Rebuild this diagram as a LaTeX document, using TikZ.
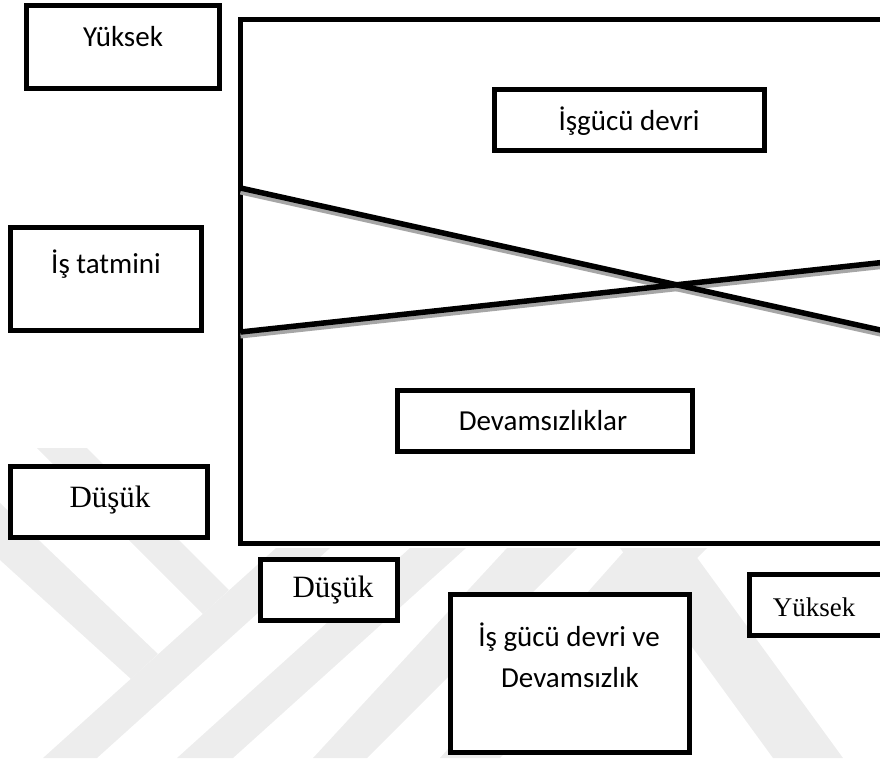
\documentclass[tikz,border=0pt]{standalone}
\usepackage{fontspec}
\setmainfont{Carlito}
\newfontfamily\timesfont{Liberation Serif}
\begin{document}
\begin{tikzpicture}[x=1pt,y=-1pt,
  box/.style={draw=black, fill=white, line width=5pt, inner sep=0pt},
  sanslbl/.style={font=\fontsize{29}{42}\selectfont, inner sep=0pt, align=center},
  seriflbl/.style={font=\timesfont\fontsize{#1}{#1}\selectfont, inner sep=0pt},
  trend/.style={line width=5.5pt, draw=black},
  trendshadow/.style={line width=5pt, draw=black!35},
  wmband/.style={fill=black!7, draw=none}
]
\useasboundingbox (0,0) rectangle (880,758);
\clip (0,0) rectangle (880,758);

% faint background emblem
\fill[wmband] (43,758) -- (97,758) -- (330,548) -- (276,548) -- cycle;
\fill[wmband] (177,758) -- (233,758) -- (466,548) -- (410,548) -- cycle;
\fill[wmband] (313,758) -- (367,758) -- (577,548) -- (507,548) -- cycle;
\fill[wmband] (440,758) -- (500,758) -- (707,548) -- (627,548) -- cycle;
\fill[wmband] (0,503) -- (158,654) -- (131,679) -- (0,560) -- cycle;
\fill[wmband] (37,448) -- (87,448) -- (229,590) -- (203,614) -- cycle;
\fill[wmband] (620,548) -- (690,548) -- (843,758) -- (773,758) -- cycle;

% main frame (open to the right)
\draw[line width=5pt, fill=white] (905,19.5) -- (240.5,19.5) -- (240.5,543.5) -- (905,543.5);

% crossing trend lines
\coordinate (t1a) at (240.5,188);
\coordinate (t1b) at (905,335.5);
\coordinate (t2a) at (240.5,332);
\coordinate (t2b) at (905,260);
\draw[trendshadow] ([yshift=-4pt]t1a) -- ([yshift=-4pt]t1b);
\draw[trendshadow] ([yshift=-4pt]t2a) -- ([yshift=-4pt]t2b);
\draw[trend] (t1a) -- (t1b);
\draw[trend] (t2a) -- (t2b);

% boxes
\node[box, minimum width=193pt, minimum height=83pt] (yhigh) at (123,47) {};
\node[box, minimum width=191pt, minimum height=103pt] (sat) at (106,279) {};
\node[box, minimum width=197pt, minimum height=71pt] (ylow) at (109,502) {};
\node[box, minimum width=137pt, minimum height=61pt] (xlow) at (329,590) {};
\node[box, minimum width=270pt, minimum height=61pt] (turn) at (629.5,120) {};
\node[box, minimum width=295pt, minimum height=61pt] (abs) at (545,421) {};
\node[box, minimum width=239pt, minimum height=158pt] (xaxis) at (570,673.5) {};
\node[box, minimum width=134pt, minimum height=61pt] (xhigh) at (816.5,605) {};

% labels
\node[sanslbl] (yhighT) at (123,37) {Yüksek};
\node[sanslbl] (satT) at (106,264) {İş tatmini};
\node[seriflbl=31] (ylowT) at (110,500) {Düşük};
\node[seriflbl=31] (xlowT) at (333,590) {Düşük};
\node[sanslbl] (turnT) at (629,121) {İşgücü devri};
\node[sanslbl] (absT) at (543,421) {Devamsızlıklar};
\node[sanslbl] (xaxisA) at (569,637) {İş gücü devri ve};
\node[sanslbl] (xaxisB) at (570,678) {Devamsızlık};
\node[seriflbl=27] (xhighT) at (814,607) {Yüksek};
\end{tikzpicture}
\end{document}
